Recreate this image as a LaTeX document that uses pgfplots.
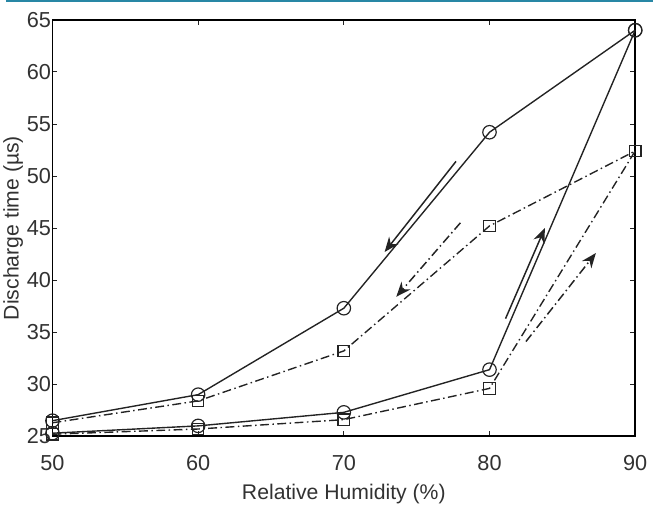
\documentclass[border=0pt]{standalone}
\usepackage{pgfplots}
\pgfplotsset{compat=1.18}
\usepackage{fontspec}
\setmainfont{Liberation Sans}
\usetikzlibrary{arrows.meta}
\definecolor{ln}{RGB}{35,35,35}
\definecolor{txt}{RGB}{50,50,50}
\definecolor{topbar}{RGB}{40,135,165}
\begin{document}
\begin{tikzpicture}
\begin{axis}[
    scale only axis,
    width=589bp, height=421bp,
    xmin=50, xmax=90, ymin=25, ymax=65,
    xtick={50,60,70,80,90},
    ytick={25,30,...,65},
    tick align=inside,
    major tick length=5bp,
    tick style={line width=0.8bp, ln},
    axis line style={line width=1.8bp, black},
    tick label style={font=\fontsize{22}{24}\selectfont, text=txt},
    /pgf/number format/assume math mode=true,
    xlabel={Relative Humidity (\%)},
    ylabel={Discharge time (µs)},
    label style={font=\fontsize{21.5}{24}\selectfont, text=txt},
    xlabel style={yshift=-6bp},
    ylabel style={yshift=-3bp},
    xticklabel style={yshift=-16bp},
    yticklabel style={xshift=2bp},
    clip=false,
]
% circles, solid
\addplot[ln, line width=1.4bp, mark=o, mark size=6.8bp, mark options={line width=1.2bp}]
  coordinates {(50,26.5) (60,29.0) (70,37.3) (80,54.2) (90,64.0)};
\addplot[ln, line width=1.4bp, mark=o, mark size=6.8bp, mark options={line width=1.2bp}]
  coordinates {(50,25.3) (60,26.0) (70,27.3) (80,31.4) (90,64.0)};
% squares, dash-dot
\addplot[ln, line width=1.4bp, dash pattern=on 9bp off 3.5bp on 1.5bp off 3.5bp,
    mark=square, mark size=5.8bp, mark options={solid, line width=1.2bp}]
  coordinates {(50,26.3) (60,28.4) (70,33.2) (80,45.2) (90,52.4)};
\addplot[ln, line width=1.4bp, dash pattern=on 9bp off 3.5bp on 1.5bp off 3.5bp,
    mark=square, mark size=5.8bp, mark options={solid, line width=1.2bp}]
  coordinates {(50,25.2) (60,25.7) (70,26.6) (80,29.6) (90,52.4)};
% direction arrows
\draw[ln, line width=1.5bp, -{Stealth[length=15bp, width=12bp]}]
  (axis cs:77.7,51.4) -- (axis cs:72.8,42.7);
\draw[ln, line width=1.5bp, dash pattern=on 9bp off 3.5bp on 1.5bp off 3.5bp,
    -{Stealth[length=15bp, width=12bp]}]
  (axis cs:78.0,45.5) -- (axis cs:73.6,38.4);
\draw[ln, line width=1.5bp, -{Stealth[length=15bp, width=12bp]}]
  (axis cs:81.1,36.3) -- (axis cs:83.8,45.0);
\draw[ln, line width=1.5bp, dash pattern=on 9bp off 3.5bp on 1.5bp off 3.5bp,
    -{Stealth[length=15bp, width=12bp]}]
  (axis cs:82.5,34.1) -- (axis cs:87.3,42.6);
\end{axis}
% thin coloured rule along the top edge of the figure
\draw[topbar, line width=2bp] (current axis.north west) ++(-47bp,19bp) -- ++(654bp,0bp);
\end{tikzpicture}
\end{document}
